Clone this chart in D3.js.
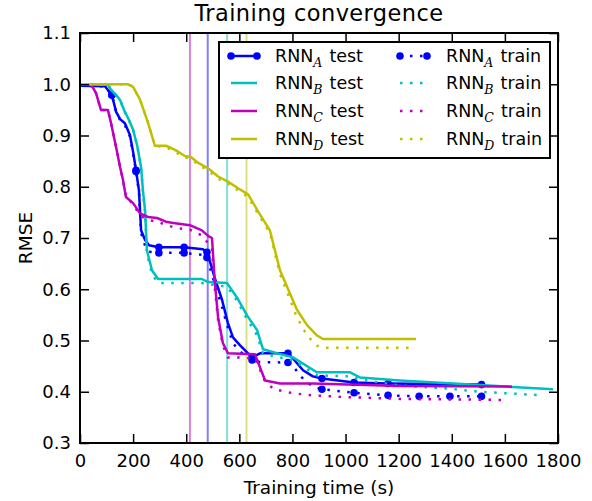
<!DOCTYPE html>
<html>
<head>
<meta charset="utf-8">
<script src="https://cdn.jsdelivr.net/npm/d3@7"></script>
<style>
  body { margin: 0; background: #fff; }
  svg { display: block; font-family: "DejaVu Sans", sans-serif; }
</style>
</head>
<body>
<svg width="592" height="501"></svg>
<script>
// ~~~~~~ DATA ~~~~~~
var xTicks = [0, 200, 400, 600, 800, 1000, 1200, 1400, 1600, 1800];
var yTicks = [0.3, 0.4, 0.5, 0.6, 0.7, 0.8, 0.9, 1.0, 1.1];

var names = ["A", "B", "C", "D"];
var colors = ["#0000ff", "#00bfbf", "#bf00bf", "#bfbf00"];

// [time (s), RMSE]
var testA = [[0,0.997],[94,0.996],[120,0.979],[136,0.946],[151,0.932],[169,0.924],[188,0.901],[200,0.868],[211,0.832],[222,0.793],[230,0.715],[245,0.696],[260,0.686],[297,0.682],[392,0.682],[463,0.678],[478,0.672],[490,0.653],[508,0.621],[535,0.579],[557,0.534],[576,0.506],[602,0.491],[629,0.477],[648,0.467],[678,0.475],[783,0.475],[802,0.465],[840,0.442],[877,0.43],[911,0.426],[1032,0.418],[1160,0.416],[1512,0.414]];
var trainA = [[0,0.997],[94,0.996],[120,0.979],[136,0.946],[151,0.93],[169,0.92],[188,0.898],[200,0.865],[211,0.83],[222,0.79],[230,0.71],[245,0.685],[260,0.673],[297,0.671],[392,0.671],[463,0.667],[478,0.662],[490,0.64],[508,0.61],[535,0.565],[557,0.525],[576,0.495],[602,0.478],[629,0.47],[648,0.462],[678,0.458],[783,0.457],[802,0.45],[840,0.425],[877,0.41],[911,0.405],[1032,0.398],[1160,0.393],[1277,0.391],[1393,0.391],[1512,0.391]];
var marksTestA = [120, 211, 297, 392, 478, 648, 783, 911, 1032, 1160, 1512];
var marksTrainA = [120, 211, 297, 392, 478, 648, 783, 911, 1032, 1160, 1277, 1393, 1512];

var testB = [[0,1.0],[105,0.999],[117,0.989],[136,0.979],[151,0.969],[169,0.946],[181,0.934],[200,0.911],[215,0.881],[230,0.838],[237,0.793],[245,0.754],[252,0.676],[271,0.637],[294,0.62],[459,0.62],[482,0.614],[554,0.612],[591,0.584],[629,0.549],[667,0.52],[689,0.483],[742,0.475],[802,0.467],[892,0.438],[1017,0.438],[1054,0.428],[1205,0.422],[1506,0.413],[1781,0.405]];
var trainB = [[0,1.0],[105,0.999],[117,0.989],[136,0.979],[151,0.969],[169,0.946],[181,0.934],[200,0.911],[215,0.881],[230,0.838],[237,0.79],[245,0.75],[252,0.67],[271,0.63],[294,0.612],[459,0.612],[482,0.61],[554,0.605],[591,0.578],[629,0.542],[667,0.51],[689,0.475],[742,0.468],[802,0.462],[892,0.432],[1017,0.43],[1054,0.424],[1205,0.412],[1393,0.406],[1506,0.4],[1744,0.393]];

var testC = [[0,1.0],[41,1.0],[60,0.983],[79,0.95],[105,0.95],[117,0.924],[136,0.877],[151,0.838],[162,0.813],[173,0.78],[200,0.768],[226,0.748],[256,0.741],[290,0.739],[328,0.731],[358,0.729],[414,0.725],[459,0.715],[482,0.704],[497,0.7],[508,0.612],[520,0.545],[538,0.495],[557,0.475],[659,0.473],[697,0.422],[753,0.416],[877,0.416],[1205,0.411],[1627,0.41]];
var trainC = [[0,1.0],[41,1.0],[60,0.983],[79,0.95],[105,0.95],[117,0.924],[136,0.877],[151,0.838],[162,0.813],[173,0.78],[200,0.766],[226,0.744],[256,0.735],[290,0.732],[328,0.725],[358,0.72],[414,0.716],[459,0.705],[482,0.69],[497,0.68],[508,0.6],[520,0.54],[538,0.49],[557,0.467],[600,0.467],[659,0.465],[697,0.42],[730,0.405],[802,0.397],[877,0.393],[980,0.39],[1205,0.386],[1600,0.384]];

var testD = [[0,1.0],[180,1.0],[200,0.995],[226,0.97],[256,0.925],[282,0.88],[324,0.88],[358,0.872],[395,0.86],[418,0.858],[444,0.847],[482,0.836],[520,0.82],[557,0.81],[595,0.797],[633,0.785],[667,0.755],[715,0.715],[753,0.637],[817,0.56],[855,0.53],[892,0.51],[915,0.503],[1265,0.503]];
var trainD = [[0,1.0],[180,1.0],[200,0.995],[226,0.97],[256,0.925],[282,0.88],[324,0.877],[358,0.868],[395,0.857],[418,0.855],[444,0.843],[482,0.832],[520,0.816],[557,0.806],[595,0.793],[633,0.78],[667,0.75],[715,0.71],[753,0.63],[817,0.545],[855,0.51],[892,0.49],[915,0.486],[1250,0.486]];

// vertical marker times, drawn in order C, A, B, D
var vlineTimes = [414, 481, 554, 627];
var vlineColors = ["#bf00bf", "#0000ff", "#00bfbf", "#bfbf00"];

// ~~~~~~ SVG ~~~~~~
var svg = d3.select("svg"),
    margin = {top: 33, right: 34, bottom: 58, left: 80},
    width = +svg.attr("width") - margin.left - margin.right,
    height = +svg.attr("height") - margin.top - margin.bottom;

var g = svg.append("g")
    .attr("transform", "translate(" + margin.left + "," + margin.top + ")");

var x = d3.scaleLinear().domain([0, 1800]).range([0, width]);
var y = d3.scaleLinear().domain([0.3, 1.1]).range([height, 0]);

var line = d3.line()
    .x(function(d) { return x(d[0]); })
    .y(function(d) { return y(d[1]); });

// clip curves to the plot area
g.append("clipPath").attr("id", "clip")
  .append("rect").attr("width", width).attr("height", height);

var plot = g.append("g").attr("clip-path", "url(#clip)");

// vertical lines
plot.selectAll(".vline")
  .data(vlineTimes)
  .enter().append("line")
  .attr("class", "vline")
  .attr("x1", function(d) { return x(d); })
  .attr("x2", function(d) { return x(d); })
  .attr("y1", 0).attr("y2", height)
  .attr("stroke", function(d, i) { return vlineColors[i]; })
  .attr("stroke-opacity", 0.5)
  .attr("stroke-width", 2);

var series = [
  {test: testA, train: trainA, color: colors[0]},
  {test: testB, train: trainB, color: colors[1]},
  {test: testC, train: trainC, color: colors[2]},
  {test: testD, train: trainD, color: colors[3]}
];

series.forEach(function(s, i) {
  plot.append("path")
    .attr("d", line(s.test))
    .attr("fill", "none")
    .attr("stroke", s.color)
    .attr("stroke-width", 2.5)
    .attr("stroke-linejoin", "round");
  plot.append("path")
    .attr("d", line(s.train))
    .attr("fill", "none")
    .attr("stroke", s.color)
    .attr("stroke-width", 2.5)
    .attr("stroke-dasharray", "2.5,7.5");
  if (i === 0) {
    var tm = testA.filter(function(d) { return marksTestA.indexOf(d[0]) >= 0; });
    var rm = trainA.filter(function(d) { return marksTrainA.indexOf(d[0]) >= 0; });
    plot.selectAll(".mtest").data(tm).enter().append("circle")
      .attr("cx", function(d) { return x(d[0]); })
      .attr("cy", function(d) { return y(d[1]); })
      .attr("r", 3.8).attr("fill", s.color);
    plot.selectAll(".mtrain").data(rm).enter().append("circle")
      .attr("cx", function(d) { return x(d[0]); })
      .attr("cy", function(d) { return y(d[1]); })
      .attr("r", 3.8).attr("fill", s.color);
  }
});

// ~~~~~~ AXES ~~~~~~
var tickLen = 9;
function styleAxis(sel) {
  sel.select(".domain").remove();
  sel.selectAll(".tick line").attr("stroke", "#000").attr("stroke-width", 1.5);
  sel.selectAll(".tick text").attr("fill", "#000")
    .style("font-size", "18px").style("font-family", "DejaVu Sans");
}

g.append("g")
  .attr("transform", "translate(0," + height + ")")
  .call(d3.axisBottom(x).tickValues(xTicks).tickSizeInner(-tickLen).tickSizeOuter(0).tickPadding(11).tickFormat(d3.format("d")))
  .call(styleAxis);
g.append("g")
  .call(d3.axisTop(x).tickValues(xTicks).tickSizeInner(-tickLen).tickSizeOuter(0).tickFormat(""))
  .call(styleAxis);
g.append("g")
  .call(d3.axisLeft(y).tickValues(yTicks).tickSizeInner(-tickLen).tickSizeOuter(0).tickPadding(9).tickFormat(d3.format(".1f")))
  .call(styleAxis);
g.append("g")
  .attr("transform", "translate(" + width + ",0)")
  .call(d3.axisRight(y).tickValues(yTicks).tickSizeInner(-tickLen).tickSizeOuter(0).tickFormat(""))
  .call(styleAxis);

// frame
g.append("rect")
  .attr("width", width).attr("height", height)
  .attr("fill", "none").attr("stroke", "#000").attr("stroke-width", 2);

// title and labels
svg.append("text")
  .attr("x", margin.left + width / 2).attr("y", 21)
  .attr("text-anchor", "middle")
  .style("font-size", "22.5px")
  .style("letter-spacing", "0.4px")
  .text("Training convergence");

svg.append("text")
  .attr("x", margin.left + width / 2).attr("y", 494)
  .attr("text-anchor", "middle")
  .style("font-size", "18.5px")
  .text("Training time (s)");

svg.append("text")
  .attr("transform", "translate(32," + (margin.top + height / 2) + ") rotate(-90)")
  .attr("text-anchor", "middle")
  .style("font-size", "18.5px")
  .text("RMSE");

// ~~~~~~ LEGEND ~~~~~~
var lg = svg.append("g").attr("transform", "translate(219,42)");
lg.append("rect")
  .attr("width", 331).attr("height", 116)
  .attr("fill", "#fff").attr("stroke", "#000").attr("stroke-width", 2);

var rowY = [14, 41, 69, 97];
names.forEach(function(n, i) {
  var yy = rowY[i];
  // test handle
  lg.append("line")
    .attr("x1", 12).attr("x2", 38).attr("y1", yy).attr("y2", yy)
    .attr("stroke", colors[i]).attr("stroke-width", 2.5);
  // train handle
  lg.append("line")
    .attr("x1", 181).attr("x2", 209).attr("y1", yy).attr("y2", yy)
    .attr("stroke", colors[i]).attr("stroke-width", 2.5)
    .attr("stroke-dasharray", "2.5,7.5");
  if (i === 0) {
    [12, 38].forEach(function(cx) {
      lg.append("circle").attr("cx", cx).attr("cy", yy).attr("r", 3.8).attr("fill", colors[i]);
    });
    [181, 208].forEach(function(cx) {
      lg.append("circle").attr("cx", cx).attr("cy", yy).attr("r", 3.8).attr("fill", colors[i]);
    });
  }
  [[56, "test"], [227, "train"]].forEach(function(p) {
    var t = lg.append("text")
      .attr("x", p[0]).attr("y", yy + 6)
      .style("font-size", "17.5px");
    t.append("tspan").text("RNN");
    t.append("tspan")
      .attr("dy", 4.5)
      .style("font-family", "DejaVu Serif")
      .style("font-style", "italic")
      .style("font-size", "12.5px")
      .text(n);
    t.append("tspan").attr("dy", -4.5).attr("dx", 7).text(p[1]);
  });
});
</script>
</body>
</html>
